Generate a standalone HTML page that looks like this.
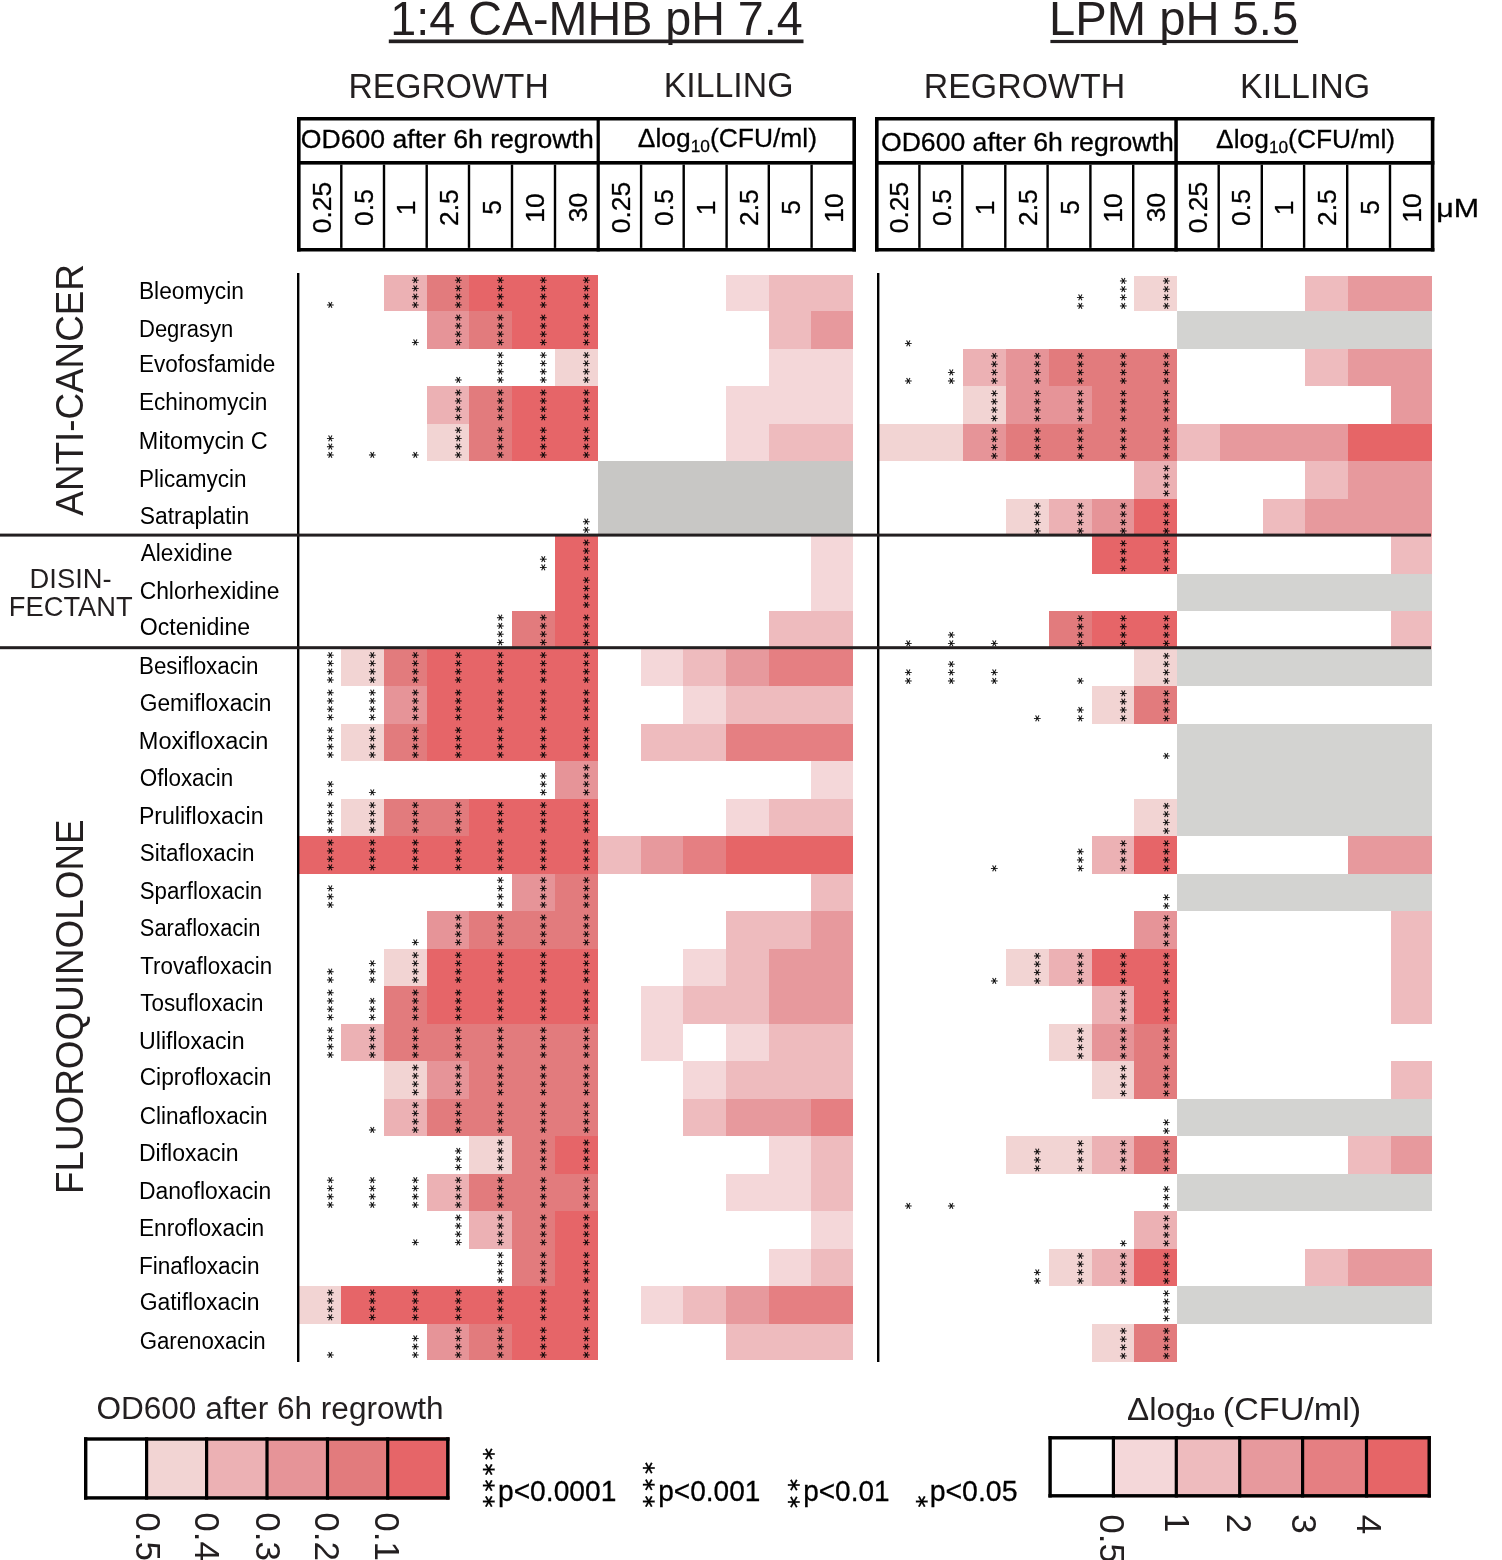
<!DOCTYPE html>
<html><head><meta charset="utf-8"><title>Heatmap</title>
<style>
html,body{margin:0;padding:0;background:#fff;overflow:hidden;}
svg{display:block;}
text{font-family:'Liberation Sans',Arial,sans-serif;}
text.k{stroke:#000;stroke-width:0.3px;}
text.a{font-family:'DejaVu Sans',sans-serif;font-size:10.5px;fill:#000;stroke:#000;stroke-width:0.1px;}
text.p{font-family:'DejaVu Sans',sans-serif;font-size:18.5px;fill:#000;stroke:#000;stroke-width:0.25px;}
rect.c{shape-rendering:crispEdges;}
</style></head><body>
<svg width="1502" height="1560" viewBox="0 0 1502 1560">
<rect width="1502" height="1560" fill="#fff"/>
<rect class="c" x="383.72" y="275.10" width="42.86" height="36.20" fill="#ECB1B4"/>
<rect class="c" x="426.58" y="275.10" width="42.86" height="36.20" fill="#E27B7D"/>
<rect class="c" x="469.44" y="275.10" width="128.58" height="36.20" fill="#E66568"/>
<rect class="c" x="426.58" y="311.30" width="42.86" height="37.50" fill="#E69498"/>
<rect class="c" x="469.44" y="311.30" width="42.86" height="37.50" fill="#E27B7D"/>
<rect class="c" x="512.30" y="311.30" width="85.72" height="37.50" fill="#E66568"/>
<rect class="c" x="555.16" y="348.80" width="42.86" height="37.50" fill="#F2D4D3"/>
<rect class="c" x="426.58" y="386.30" width="42.86" height="37.50" fill="#ECB1B4"/>
<rect class="c" x="469.44" y="386.30" width="42.86" height="37.50" fill="#E27B7D"/>
<rect class="c" x="512.30" y="386.30" width="85.72" height="37.50" fill="#E66568"/>
<rect class="c" x="426.58" y="423.80" width="42.86" height="37.50" fill="#F2D4D3"/>
<rect class="c" x="469.44" y="423.80" width="42.86" height="37.50" fill="#E27B7D"/>
<rect class="c" x="512.30" y="423.80" width="85.72" height="37.50" fill="#E66568"/>
<rect class="c" x="555.16" y="536.30" width="42.86" height="37.50" fill="#E66568"/>
<rect class="c" x="555.16" y="573.80" width="42.86" height="37.50" fill="#E66568"/>
<rect class="c" x="512.30" y="611.30" width="42.86" height="37.50" fill="#E27B7D"/>
<rect class="c" x="555.16" y="611.30" width="42.86" height="37.50" fill="#E66568"/>
<rect class="c" x="340.86" y="648.80" width="42.86" height="37.50" fill="#F2D4D3"/>
<rect class="c" x="383.72" y="648.80" width="42.86" height="37.50" fill="#E27B7D"/>
<rect class="c" x="426.58" y="648.80" width="171.44" height="37.50" fill="#E66568"/>
<rect class="c" x="383.72" y="686.30" width="42.86" height="37.50" fill="#E69498"/>
<rect class="c" x="426.58" y="686.30" width="171.44" height="37.50" fill="#E66568"/>
<rect class="c" x="340.86" y="723.80" width="42.86" height="37.50" fill="#F2D4D3"/>
<rect class="c" x="383.72" y="723.80" width="42.86" height="37.50" fill="#E27B7D"/>
<rect class="c" x="426.58" y="723.80" width="171.44" height="37.50" fill="#E66568"/>
<rect class="c" x="555.16" y="761.30" width="42.86" height="37.50" fill="#E69498"/>
<rect class="c" x="340.86" y="798.80" width="42.86" height="37.50" fill="#F2D4D3"/>
<rect class="c" x="383.72" y="798.80" width="85.72" height="37.50" fill="#E27B7D"/>
<rect class="c" x="469.44" y="798.80" width="128.58" height="37.50" fill="#E66568"/>
<rect class="c" x="298.00" y="836.30" width="300.02" height="37.50" fill="#E66568"/>
<rect class="c" x="512.30" y="873.80" width="42.86" height="37.50" fill="#E69498"/>
<rect class="c" x="555.16" y="873.80" width="42.86" height="37.50" fill="#E27B7D"/>
<rect class="c" x="426.58" y="911.30" width="42.86" height="37.50" fill="#E69498"/>
<rect class="c" x="469.44" y="911.30" width="128.58" height="37.50" fill="#E27B7D"/>
<rect class="c" x="383.72" y="948.80" width="42.86" height="37.50" fill="#F2D4D3"/>
<rect class="c" x="426.58" y="948.80" width="171.44" height="37.50" fill="#E66568"/>
<rect class="c" x="383.72" y="986.30" width="42.86" height="37.50" fill="#E27B7D"/>
<rect class="c" x="426.58" y="986.30" width="171.44" height="37.50" fill="#E66568"/>
<rect class="c" x="340.86" y="1023.80" width="42.86" height="37.50" fill="#ECB1B4"/>
<rect class="c" x="383.72" y="1023.80" width="214.30" height="37.50" fill="#E27B7D"/>
<rect class="c" x="383.72" y="1061.30" width="42.86" height="37.50" fill="#F2D4D3"/>
<rect class="c" x="426.58" y="1061.30" width="42.86" height="37.50" fill="#E69498"/>
<rect class="c" x="469.44" y="1061.30" width="128.58" height="37.50" fill="#E27B7D"/>
<rect class="c" x="383.72" y="1098.80" width="42.86" height="37.50" fill="#ECB1B4"/>
<rect class="c" x="426.58" y="1098.80" width="171.44" height="37.50" fill="#E27B7D"/>
<rect class="c" x="469.44" y="1136.30" width="42.86" height="37.50" fill="#F2D4D3"/>
<rect class="c" x="512.30" y="1136.30" width="42.86" height="37.50" fill="#E27B7D"/>
<rect class="c" x="555.16" y="1136.30" width="42.86" height="37.50" fill="#E66568"/>
<rect class="c" x="426.58" y="1173.80" width="42.86" height="37.50" fill="#ECB1B4"/>
<rect class="c" x="469.44" y="1173.80" width="128.58" height="37.50" fill="#E27B7D"/>
<rect class="c" x="469.44" y="1211.30" width="42.86" height="37.50" fill="#ECB1B4"/>
<rect class="c" x="512.30" y="1211.30" width="42.86" height="37.50" fill="#E27B7D"/>
<rect class="c" x="555.16" y="1211.30" width="42.86" height="37.50" fill="#E66568"/>
<rect class="c" x="512.30" y="1248.80" width="42.86" height="37.50" fill="#E27B7D"/>
<rect class="c" x="555.16" y="1248.80" width="42.86" height="37.50" fill="#E66568"/>
<rect class="c" x="298.00" y="1286.30" width="42.86" height="37.50" fill="#F2D4D3"/>
<rect class="c" x="340.86" y="1286.30" width="257.16" height="37.50" fill="#E66568"/>
<rect class="c" x="426.58" y="1323.80" width="42.86" height="36.20" fill="#E69498"/>
<rect class="c" x="469.44" y="1323.80" width="42.86" height="36.20" fill="#E27B7D"/>
<rect class="c" x="512.30" y="1323.80" width="85.72" height="36.20" fill="#E66568"/>
<rect class="c" x="725.80" y="275.10" width="42.80" height="36.20" fill="#F4D7D9"/>
<rect class="c" x="768.60" y="275.10" width="84.40" height="36.20" fill="#EEBBBE"/>
<rect class="c" x="768.60" y="311.30" width="42.60" height="37.50" fill="#EEBBBE"/>
<rect class="c" x="811.20" y="311.30" width="41.80" height="37.50" fill="#E7999D"/>
<rect class="c" x="768.60" y="348.80" width="84.40" height="37.50" fill="#F4D7D9"/>
<rect class="c" x="725.80" y="386.30" width="127.20" height="37.50" fill="#F4D7D9"/>
<rect class="c" x="725.80" y="423.80" width="42.80" height="37.50" fill="#F4D7D9"/>
<rect class="c" x="768.60" y="423.80" width="84.40" height="37.50" fill="#EEBBBE"/>
<rect class="c" x="598.00" y="461.30" width="255.00" height="37.50" fill="#C8C7C5"/>
<rect class="c" x="598.00" y="498.80" width="255.00" height="37.50" fill="#C8C7C5"/>
<rect class="c" x="811.20" y="536.30" width="41.80" height="37.50" fill="#F4D7D9"/>
<rect class="c" x="811.20" y="573.80" width="41.80" height="37.50" fill="#F4D7D9"/>
<rect class="c" x="768.60" y="611.30" width="84.40" height="37.50" fill="#EEBBBE"/>
<rect class="c" x="640.60" y="648.80" width="42.60" height="37.50" fill="#F4D7D9"/>
<rect class="c" x="683.20" y="648.80" width="42.60" height="37.50" fill="#EEBBBE"/>
<rect class="c" x="725.80" y="648.80" width="42.80" height="37.50" fill="#E7999D"/>
<rect class="c" x="768.60" y="648.80" width="84.40" height="37.50" fill="#E57F82"/>
<rect class="c" x="683.20" y="686.30" width="42.60" height="37.50" fill="#F4D7D9"/>
<rect class="c" x="725.80" y="686.30" width="127.20" height="37.50" fill="#EEBBBE"/>
<rect class="c" x="640.60" y="723.80" width="85.20" height="37.50" fill="#EEBBBE"/>
<rect class="c" x="725.80" y="723.80" width="127.20" height="37.50" fill="#E57F82"/>
<rect class="c" x="811.20" y="761.30" width="41.80" height="37.50" fill="#F4D7D9"/>
<rect class="c" x="725.80" y="798.80" width="42.80" height="37.50" fill="#F4D7D9"/>
<rect class="c" x="768.60" y="798.80" width="84.40" height="37.50" fill="#EEBBBE"/>
<rect class="c" x="598.00" y="836.30" width="42.60" height="37.50" fill="#EEBBBE"/>
<rect class="c" x="640.60" y="836.30" width="42.60" height="37.50" fill="#E7999D"/>
<rect class="c" x="683.20" y="836.30" width="42.60" height="37.50" fill="#E57F82"/>
<rect class="c" x="725.80" y="836.30" width="127.20" height="37.50" fill="#E66567"/>
<rect class="c" x="811.20" y="873.80" width="41.80" height="37.50" fill="#EEBBBE"/>
<rect class="c" x="725.80" y="911.30" width="85.40" height="37.50" fill="#EEBBBE"/>
<rect class="c" x="811.20" y="911.30" width="41.80" height="37.50" fill="#E7999D"/>
<rect class="c" x="683.20" y="948.80" width="42.60" height="37.50" fill="#F4D7D9"/>
<rect class="c" x="725.80" y="948.80" width="42.80" height="37.50" fill="#EEBBBE"/>
<rect class="c" x="768.60" y="948.80" width="84.40" height="37.50" fill="#E7999D"/>
<rect class="c" x="640.60" y="986.30" width="42.60" height="37.50" fill="#F4D7D9"/>
<rect class="c" x="683.20" y="986.30" width="85.40" height="37.50" fill="#EEBBBE"/>
<rect class="c" x="768.60" y="986.30" width="84.40" height="37.50" fill="#E7999D"/>
<rect class="c" x="640.60" y="1023.80" width="42.60" height="37.50" fill="#F4D7D9"/>
<rect class="c" x="725.80" y="1023.80" width="42.80" height="37.50" fill="#F4D7D9"/>
<rect class="c" x="768.60" y="1023.80" width="84.40" height="37.50" fill="#EEBBBE"/>
<rect class="c" x="683.20" y="1061.30" width="42.60" height="37.50" fill="#F4D7D9"/>
<rect class="c" x="725.80" y="1061.30" width="127.20" height="37.50" fill="#EEBBBE"/>
<rect class="c" x="683.20" y="1098.80" width="42.60" height="37.50" fill="#EEBBBE"/>
<rect class="c" x="725.80" y="1098.80" width="85.40" height="37.50" fill="#E7999D"/>
<rect class="c" x="811.20" y="1098.80" width="41.80" height="37.50" fill="#E57F82"/>
<rect class="c" x="768.60" y="1136.30" width="42.60" height="37.50" fill="#F4D7D9"/>
<rect class="c" x="811.20" y="1136.30" width="41.80" height="37.50" fill="#EEBBBE"/>
<rect class="c" x="725.80" y="1173.80" width="85.40" height="37.50" fill="#F4D7D9"/>
<rect class="c" x="811.20" y="1173.80" width="41.80" height="37.50" fill="#EEBBBE"/>
<rect class="c" x="811.20" y="1211.30" width="41.80" height="37.50" fill="#F4D7D9"/>
<rect class="c" x="768.60" y="1248.80" width="42.60" height="37.50" fill="#F4D7D9"/>
<rect class="c" x="811.20" y="1248.80" width="41.80" height="37.50" fill="#EEBBBE"/>
<rect class="c" x="640.60" y="1286.30" width="42.60" height="37.50" fill="#F4D7D9"/>
<rect class="c" x="683.20" y="1286.30" width="42.60" height="37.50" fill="#EEBBBE"/>
<rect class="c" x="725.80" y="1286.30" width="42.80" height="37.50" fill="#E7999D"/>
<rect class="c" x="768.60" y="1286.30" width="84.40" height="37.50" fill="#E57F82"/>
<rect class="c" x="725.80" y="1323.80" width="127.20" height="36.20" fill="#EEBBBE"/>
<rect class="c" x="1134.32" y="275.80" width="42.77" height="35.50" fill="#F2D4D3"/>
<rect class="c" x="963.24" y="348.80" width="42.77" height="37.50" fill="#ECB1B4"/>
<rect class="c" x="1006.01" y="348.80" width="42.77" height="37.50" fill="#E69498"/>
<rect class="c" x="1048.78" y="348.80" width="128.31" height="37.50" fill="#E27B7D"/>
<rect class="c" x="963.24" y="386.30" width="42.77" height="37.50" fill="#F2D4D3"/>
<rect class="c" x="1006.01" y="386.30" width="85.54" height="37.50" fill="#E69498"/>
<rect class="c" x="1091.55" y="386.30" width="85.54" height="37.50" fill="#E27B7D"/>
<rect class="c" x="877.70" y="423.80" width="85.54" height="37.50" fill="#F2D4D3"/>
<rect class="c" x="963.24" y="423.80" width="42.77" height="37.50" fill="#E69498"/>
<rect class="c" x="1006.01" y="423.80" width="171.08" height="37.50" fill="#E27B7D"/>
<rect class="c" x="1134.32" y="461.30" width="42.77" height="37.50" fill="#ECB1B4"/>
<rect class="c" x="1006.01" y="498.80" width="42.77" height="37.50" fill="#F2D4D3"/>
<rect class="c" x="1048.78" y="498.80" width="42.77" height="37.50" fill="#ECB1B4"/>
<rect class="c" x="1091.55" y="498.80" width="42.77" height="37.50" fill="#E69498"/>
<rect class="c" x="1134.32" y="498.80" width="42.77" height="37.50" fill="#E66568"/>
<rect class="c" x="1091.55" y="536.30" width="85.54" height="37.50" fill="#E66568"/>
<rect class="c" x="1048.78" y="611.30" width="42.77" height="37.50" fill="#E27B7D"/>
<rect class="c" x="1091.55" y="611.30" width="85.54" height="37.50" fill="#E66568"/>
<rect class="c" x="1134.32" y="648.80" width="42.77" height="37.50" fill="#F2D4D3"/>
<rect class="c" x="1091.55" y="686.30" width="42.77" height="37.50" fill="#F2D4D3"/>
<rect class="c" x="1134.32" y="686.30" width="42.77" height="37.50" fill="#E27B7D"/>
<rect class="c" x="1134.32" y="798.80" width="42.77" height="37.50" fill="#F2D4D3"/>
<rect class="c" x="1091.55" y="836.30" width="42.77" height="37.50" fill="#ECB1B4"/>
<rect class="c" x="1134.32" y="836.30" width="42.77" height="37.50" fill="#E66568"/>
<rect class="c" x="1134.32" y="911.30" width="42.77" height="37.50" fill="#E69498"/>
<rect class="c" x="1006.01" y="948.80" width="42.77" height="37.50" fill="#F2D4D3"/>
<rect class="c" x="1048.78" y="948.80" width="42.77" height="37.50" fill="#ECB1B4"/>
<rect class="c" x="1091.55" y="948.80" width="85.54" height="37.50" fill="#E66568"/>
<rect class="c" x="1091.55" y="986.30" width="42.77" height="37.50" fill="#ECB1B4"/>
<rect class="c" x="1134.32" y="986.30" width="42.77" height="37.50" fill="#E66568"/>
<rect class="c" x="1048.78" y="1023.80" width="42.77" height="37.50" fill="#F2D4D3"/>
<rect class="c" x="1091.55" y="1023.80" width="42.77" height="37.50" fill="#E69498"/>
<rect class="c" x="1134.32" y="1023.80" width="42.77" height="37.50" fill="#E27B7D"/>
<rect class="c" x="1091.55" y="1061.30" width="42.77" height="37.50" fill="#F2D4D3"/>
<rect class="c" x="1134.32" y="1061.30" width="42.77" height="37.50" fill="#E27B7D"/>
<rect class="c" x="1006.01" y="1136.30" width="85.54" height="37.50" fill="#F2D4D3"/>
<rect class="c" x="1091.55" y="1136.30" width="42.77" height="37.50" fill="#ECB1B4"/>
<rect class="c" x="1134.32" y="1136.30" width="42.77" height="37.50" fill="#E27B7D"/>
<rect class="c" x="1134.32" y="1211.30" width="42.77" height="37.50" fill="#ECB1B4"/>
<rect class="c" x="1048.78" y="1248.80" width="42.77" height="37.50" fill="#F2D4D3"/>
<rect class="c" x="1091.55" y="1248.80" width="42.77" height="37.50" fill="#ECB1B4"/>
<rect class="c" x="1134.32" y="1248.80" width="42.77" height="37.50" fill="#E66568"/>
<rect class="c" x="1091.55" y="1323.80" width="42.77" height="38.00" fill="#F2D4D3"/>
<rect class="c" x="1134.32" y="1323.80" width="42.77" height="38.00" fill="#E27B7D"/>
<rect class="c" x="1305.40" y="275.80" width="42.60" height="35.50" fill="#EEBBBE"/>
<rect class="c" x="1348.00" y="275.80" width="83.80" height="35.50" fill="#E7999D"/>
<rect class="c" x="1177.20" y="311.30" width="254.60" height="37.50" fill="#D3D3D1"/>
<rect class="c" x="1305.40" y="348.80" width="42.60" height="37.50" fill="#EEBBBE"/>
<rect class="c" x="1348.00" y="348.80" width="83.80" height="37.50" fill="#E7999D"/>
<rect class="c" x="1391.00" y="386.30" width="40.80" height="37.50" fill="#E7999D"/>
<rect class="c" x="1177.20" y="423.80" width="42.60" height="37.50" fill="#EEBBBE"/>
<rect class="c" x="1219.80" y="423.80" width="128.20" height="37.50" fill="#E7999D"/>
<rect class="c" x="1348.00" y="423.80" width="83.80" height="37.50" fill="#E66567"/>
<rect class="c" x="1305.40" y="461.30" width="42.60" height="37.50" fill="#EEBBBE"/>
<rect class="c" x="1348.00" y="461.30" width="83.80" height="37.50" fill="#E7999D"/>
<rect class="c" x="1262.60" y="498.80" width="42.80" height="37.50" fill="#EEBBBE"/>
<rect class="c" x="1305.40" y="498.80" width="126.40" height="37.50" fill="#E7999D"/>
<rect class="c" x="1391.00" y="536.30" width="40.80" height="37.50" fill="#EEBBBE"/>
<rect class="c" x="1177.20" y="573.80" width="254.60" height="37.50" fill="#D3D3D1"/>
<rect class="c" x="1391.00" y="611.30" width="40.80" height="37.50" fill="#EEBBBE"/>
<rect class="c" x="1177.20" y="648.80" width="254.60" height="37.50" fill="#D3D3D1"/>
<rect class="c" x="1177.20" y="723.80" width="254.60" height="37.50" fill="#D3D3D1"/>
<rect class="c" x="1177.20" y="761.30" width="254.60" height="37.50" fill="#D3D3D1"/>
<rect class="c" x="1177.20" y="798.80" width="254.60" height="37.50" fill="#D3D3D1"/>
<rect class="c" x="1348.00" y="836.30" width="83.80" height="37.50" fill="#E7999D"/>
<rect class="c" x="1177.20" y="873.80" width="254.60" height="37.50" fill="#D3D3D1"/>
<rect class="c" x="1391.00" y="911.30" width="40.80" height="37.50" fill="#EEBBBE"/>
<rect class="c" x="1391.00" y="948.80" width="40.80" height="37.50" fill="#EEBBBE"/>
<rect class="c" x="1391.00" y="986.30" width="40.80" height="37.50" fill="#EEBBBE"/>
<rect class="c" x="1391.00" y="1061.30" width="40.80" height="37.50" fill="#EEBBBE"/>
<rect class="c" x="1177.20" y="1098.80" width="254.60" height="37.50" fill="#D3D3D1"/>
<rect class="c" x="1348.00" y="1136.30" width="43.00" height="37.50" fill="#EEBBBE"/>
<rect class="c" x="1391.00" y="1136.30" width="40.80" height="37.50" fill="#E7999D"/>
<rect class="c" x="1177.20" y="1173.80" width="254.60" height="37.50" fill="#D3D3D1"/>
<rect class="c" x="1305.40" y="1248.80" width="42.60" height="37.50" fill="#EEBBBE"/>
<rect class="c" x="1348.00" y="1248.80" width="83.80" height="37.50" fill="#E7999D"/>
<rect class="c" x="1177.20" y="1286.30" width="254.60" height="37.50" fill="#D3D3D1"/>
<text class="a" transform="translate(326.81,0) rotate(90)" x="300.60" y="0">∗</text>
<text class="a" transform="translate(412.11,0) rotate(90)" x="275.70 284.00 292.30 300.60" y="0">∗∗∗∗</text>
<text class="a" transform="translate(454.76,0) rotate(90)" x="275.70 284.00 292.30 300.60" y="0">∗∗∗∗</text>
<text class="a" transform="translate(497.41,0) rotate(90)" x="275.70 284.00 292.30 300.60" y="0">∗∗∗∗</text>
<text class="a" transform="translate(540.06,0) rotate(90)" x="275.70 284.00 292.30 300.60" y="0">∗∗∗∗</text>
<text class="a" transform="translate(582.71,0) rotate(90)" x="275.70 284.00 292.30 300.60" y="0">∗∗∗∗</text>
<text class="a" transform="translate(412.11,0) rotate(90)" x="338.10" y="0">∗</text>
<text class="a" transform="translate(454.76,0) rotate(90)" x="313.20 321.50 329.80 338.10" y="0">∗∗∗∗</text>
<text class="a" transform="translate(497.41,0) rotate(90)" x="313.20 321.50 329.80 338.10" y="0">∗∗∗∗</text>
<text class="a" transform="translate(540.06,0) rotate(90)" x="313.20 321.50 329.80 338.10" y="0">∗∗∗∗</text>
<text class="a" transform="translate(582.71,0) rotate(90)" x="313.20 321.50 329.80 338.10" y="0">∗∗∗∗</text>
<text class="a" transform="translate(454.76,0) rotate(90)" x="375.60" y="0">∗</text>
<text class="a" transform="translate(497.41,0) rotate(90)" x="350.70 359.00 367.30 375.60" y="0">∗∗∗∗</text>
<text class="a" transform="translate(540.06,0) rotate(90)" x="350.70 359.00 367.30 375.60" y="0">∗∗∗∗</text>
<text class="a" transform="translate(582.71,0) rotate(90)" x="350.70 359.00 367.30 375.60" y="0">∗∗∗∗</text>
<text class="a" transform="translate(454.76,0) rotate(90)" x="388.20 396.50 404.80 413.10" y="0">∗∗∗∗</text>
<text class="a" transform="translate(497.41,0) rotate(90)" x="388.20 396.50 404.80 413.10" y="0">∗∗∗∗</text>
<text class="a" transform="translate(540.06,0) rotate(90)" x="388.20 396.50 404.80 413.10" y="0">∗∗∗∗</text>
<text class="a" transform="translate(582.71,0) rotate(90)" x="388.20 396.50 404.80 413.10" y="0">∗∗∗∗</text>
<text class="a" transform="translate(326.81,0) rotate(90)" x="434.00 442.30 450.60" y="0">∗∗∗</text>
<text class="a" transform="translate(369.46,0) rotate(90)" x="450.60" y="0">∗</text>
<text class="a" transform="translate(412.11,0) rotate(90)" x="450.60" y="0">∗</text>
<text class="a" transform="translate(454.76,0) rotate(90)" x="425.70 434.00 442.30 450.60" y="0">∗∗∗∗</text>
<text class="a" transform="translate(497.41,0) rotate(90)" x="425.70 434.00 442.30 450.60" y="0">∗∗∗∗</text>
<text class="a" transform="translate(540.06,0) rotate(90)" x="425.70 434.00 442.30 450.60" y="0">∗∗∗∗</text>
<text class="a" transform="translate(582.71,0) rotate(90)" x="425.70 434.00 442.30 450.60" y="0">∗∗∗∗</text>
<text class="a" transform="translate(582.71,0) rotate(90)" x="517.30 525.60" y="0">∗∗</text>
<text class="a" transform="translate(540.06,0) rotate(90)" x="554.80 563.10" y="0">∗∗</text>
<text class="a" transform="translate(582.71,0) rotate(90)" x="538.20 546.50 554.80 563.10" y="0">∗∗∗∗</text>
<text class="a" transform="translate(582.71,0) rotate(90)" x="575.70 584.00 592.30 600.60" y="0">∗∗∗∗</text>
<text class="a" transform="translate(497.41,0) rotate(90)" x="613.20 621.50 629.80 638.10" y="0">∗∗∗∗</text>
<text class="a" transform="translate(540.06,0) rotate(90)" x="613.20 621.50 629.80 638.10" y="0">∗∗∗∗</text>
<text class="a" transform="translate(582.71,0) rotate(90)" x="613.20 621.50 629.80 638.10" y="0">∗∗∗∗</text>
<text class="a" transform="translate(326.81,0) rotate(90)" x="650.70 659.00 667.30 675.60" y="0">∗∗∗∗</text>
<text class="a" transform="translate(369.46,0) rotate(90)" x="650.70 659.00 667.30 675.60" y="0">∗∗∗∗</text>
<text class="a" transform="translate(412.11,0) rotate(90)" x="650.70 659.00 667.30 675.60" y="0">∗∗∗∗</text>
<text class="a" transform="translate(454.76,0) rotate(90)" x="650.70 659.00 667.30 675.60" y="0">∗∗∗∗</text>
<text class="a" transform="translate(497.41,0) rotate(90)" x="650.70 659.00 667.30 675.60" y="0">∗∗∗∗</text>
<text class="a" transform="translate(540.06,0) rotate(90)" x="650.70 659.00 667.30 675.60" y="0">∗∗∗∗</text>
<text class="a" transform="translate(582.71,0) rotate(90)" x="650.70 659.00 667.30 675.60" y="0">∗∗∗∗</text>
<text class="a" transform="translate(326.81,0) rotate(90)" x="688.20 696.50 704.80 713.10" y="0">∗∗∗∗</text>
<text class="a" transform="translate(369.46,0) rotate(90)" x="688.20 696.50 704.80 713.10" y="0">∗∗∗∗</text>
<text class="a" transform="translate(412.11,0) rotate(90)" x="688.20 696.50 704.80 713.10" y="0">∗∗∗∗</text>
<text class="a" transform="translate(454.76,0) rotate(90)" x="688.20 696.50 704.80 713.10" y="0">∗∗∗∗</text>
<text class="a" transform="translate(497.41,0) rotate(90)" x="688.20 696.50 704.80 713.10" y="0">∗∗∗∗</text>
<text class="a" transform="translate(540.06,0) rotate(90)" x="688.20 696.50 704.80 713.10" y="0">∗∗∗∗</text>
<text class="a" transform="translate(582.71,0) rotate(90)" x="688.20 696.50 704.80 713.10" y="0">∗∗∗∗</text>
<text class="a" transform="translate(326.81,0) rotate(90)" x="725.70 734.00 742.30 750.60" y="0">∗∗∗∗</text>
<text class="a" transform="translate(369.46,0) rotate(90)" x="725.70 734.00 742.30 750.60" y="0">∗∗∗∗</text>
<text class="a" transform="translate(412.11,0) rotate(90)" x="725.70 734.00 742.30 750.60" y="0">∗∗∗∗</text>
<text class="a" transform="translate(454.76,0) rotate(90)" x="725.70 734.00 742.30 750.60" y="0">∗∗∗∗</text>
<text class="a" transform="translate(497.41,0) rotate(90)" x="725.70 734.00 742.30 750.60" y="0">∗∗∗∗</text>
<text class="a" transform="translate(540.06,0) rotate(90)" x="725.70 734.00 742.30 750.60" y="0">∗∗∗∗</text>
<text class="a" transform="translate(582.71,0) rotate(90)" x="725.70 734.00 742.30 750.60" y="0">∗∗∗∗</text>
<text class="a" transform="translate(326.81,0) rotate(90)" x="779.80 788.10" y="0">∗∗</text>
<text class="a" transform="translate(369.46,0) rotate(90)" x="788.10" y="0">∗</text>
<text class="a" transform="translate(540.06,0) rotate(90)" x="771.50 779.80 788.10" y="0">∗∗∗</text>
<text class="a" transform="translate(582.71,0) rotate(90)" x="763.20 771.50 779.80 788.10" y="0">∗∗∗∗</text>
<text class="a" transform="translate(326.81,0) rotate(90)" x="800.70 809.00 817.30 825.60" y="0">∗∗∗∗</text>
<text class="a" transform="translate(369.46,0) rotate(90)" x="800.70 809.00 817.30 825.60" y="0">∗∗∗∗</text>
<text class="a" transform="translate(412.11,0) rotate(90)" x="800.70 809.00 817.30 825.60" y="0">∗∗∗∗</text>
<text class="a" transform="translate(454.76,0) rotate(90)" x="800.70 809.00 817.30 825.60" y="0">∗∗∗∗</text>
<text class="a" transform="translate(497.41,0) rotate(90)" x="800.70 809.00 817.30 825.60" y="0">∗∗∗∗</text>
<text class="a" transform="translate(540.06,0) rotate(90)" x="800.70 809.00 817.30 825.60" y="0">∗∗∗∗</text>
<text class="a" transform="translate(582.71,0) rotate(90)" x="800.70 809.00 817.30 825.60" y="0">∗∗∗∗</text>
<text class="a" transform="translate(326.81,0) rotate(90)" x="838.20 846.50 854.80 863.10" y="0">∗∗∗∗</text>
<text class="a" transform="translate(369.46,0) rotate(90)" x="838.20 846.50 854.80 863.10" y="0">∗∗∗∗</text>
<text class="a" transform="translate(412.11,0) rotate(90)" x="838.20 846.50 854.80 863.10" y="0">∗∗∗∗</text>
<text class="a" transform="translate(454.76,0) rotate(90)" x="838.20 846.50 854.80 863.10" y="0">∗∗∗∗</text>
<text class="a" transform="translate(497.41,0) rotate(90)" x="838.20 846.50 854.80 863.10" y="0">∗∗∗∗</text>
<text class="a" transform="translate(540.06,0) rotate(90)" x="838.20 846.50 854.80 863.10" y="0">∗∗∗∗</text>
<text class="a" transform="translate(582.71,0) rotate(90)" x="838.20 846.50 854.80 863.10" y="0">∗∗∗∗</text>
<text class="a" transform="translate(326.81,0) rotate(90)" x="884.00 892.30 900.60" y="0">∗∗∗</text>
<text class="a" transform="translate(497.41,0) rotate(90)" x="875.70 884.00 892.30 900.60" y="0">∗∗∗∗</text>
<text class="a" transform="translate(540.06,0) rotate(90)" x="875.70 884.00 892.30 900.60" y="0">∗∗∗∗</text>
<text class="a" transform="translate(582.71,0) rotate(90)" x="875.70 884.00 892.30 900.60" y="0">∗∗∗∗</text>
<text class="a" transform="translate(412.11,0) rotate(90)" x="938.10" y="0">∗</text>
<text class="a" transform="translate(454.76,0) rotate(90)" x="913.20 921.50 929.80 938.10" y="0">∗∗∗∗</text>
<text class="a" transform="translate(497.41,0) rotate(90)" x="913.20 921.50 929.80 938.10" y="0">∗∗∗∗</text>
<text class="a" transform="translate(540.06,0) rotate(90)" x="913.20 921.50 929.80 938.10" y="0">∗∗∗∗</text>
<text class="a" transform="translate(582.71,0) rotate(90)" x="913.20 921.50 929.80 938.10" y="0">∗∗∗∗</text>
<text class="a" transform="translate(326.81,0) rotate(90)" x="967.30 975.60" y="0">∗∗</text>
<text class="a" transform="translate(369.46,0) rotate(90)" x="959.00 967.30 975.60" y="0">∗∗∗</text>
<text class="a" transform="translate(412.11,0) rotate(90)" x="950.70 959.00 967.30 975.60" y="0">∗∗∗∗</text>
<text class="a" transform="translate(454.76,0) rotate(90)" x="950.70 959.00 967.30 975.60" y="0">∗∗∗∗</text>
<text class="a" transform="translate(497.41,0) rotate(90)" x="950.70 959.00 967.30 975.60" y="0">∗∗∗∗</text>
<text class="a" transform="translate(540.06,0) rotate(90)" x="950.70 959.00 967.30 975.60" y="0">∗∗∗∗</text>
<text class="a" transform="translate(582.71,0) rotate(90)" x="950.70 959.00 967.30 975.60" y="0">∗∗∗∗</text>
<text class="a" transform="translate(326.81,0) rotate(90)" x="988.20 996.50 1004.80 1013.10" y="0">∗∗∗∗</text>
<text class="a" transform="translate(369.46,0) rotate(90)" x="996.50 1004.80 1013.10" y="0">∗∗∗</text>
<text class="a" transform="translate(412.11,0) rotate(90)" x="988.20 996.50 1004.80 1013.10" y="0">∗∗∗∗</text>
<text class="a" transform="translate(454.76,0) rotate(90)" x="988.20 996.50 1004.80 1013.10" y="0">∗∗∗∗</text>
<text class="a" transform="translate(497.41,0) rotate(90)" x="988.20 996.50 1004.80 1013.10" y="0">∗∗∗∗</text>
<text class="a" transform="translate(540.06,0) rotate(90)" x="988.20 996.50 1004.80 1013.10" y="0">∗∗∗∗</text>
<text class="a" transform="translate(582.71,0) rotate(90)" x="988.20 996.50 1004.80 1013.10" y="0">∗∗∗∗</text>
<text class="a" transform="translate(326.81,0) rotate(90)" x="1025.70 1034.00 1042.30 1050.60" y="0">∗∗∗∗</text>
<text class="a" transform="translate(369.46,0) rotate(90)" x="1025.70 1034.00 1042.30 1050.60" y="0">∗∗∗∗</text>
<text class="a" transform="translate(412.11,0) rotate(90)" x="1025.70 1034.00 1042.30 1050.60" y="0">∗∗∗∗</text>
<text class="a" transform="translate(454.76,0) rotate(90)" x="1025.70 1034.00 1042.30 1050.60" y="0">∗∗∗∗</text>
<text class="a" transform="translate(497.41,0) rotate(90)" x="1025.70 1034.00 1042.30 1050.60" y="0">∗∗∗∗</text>
<text class="a" transform="translate(540.06,0) rotate(90)" x="1025.70 1034.00 1042.30 1050.60" y="0">∗∗∗∗</text>
<text class="a" transform="translate(582.71,0) rotate(90)" x="1025.70 1034.00 1042.30 1050.60" y="0">∗∗∗∗</text>
<text class="a" transform="translate(412.11,0) rotate(90)" x="1063.20 1071.50 1079.80 1088.10" y="0">∗∗∗∗</text>
<text class="a" transform="translate(454.76,0) rotate(90)" x="1063.20 1071.50 1079.80 1088.10" y="0">∗∗∗∗</text>
<text class="a" transform="translate(497.41,0) rotate(90)" x="1063.20 1071.50 1079.80 1088.10" y="0">∗∗∗∗</text>
<text class="a" transform="translate(540.06,0) rotate(90)" x="1063.20 1071.50 1079.80 1088.10" y="0">∗∗∗∗</text>
<text class="a" transform="translate(582.71,0) rotate(90)" x="1063.20 1071.50 1079.80 1088.10" y="0">∗∗∗∗</text>
<text class="a" transform="translate(369.46,0) rotate(90)" x="1125.60" y="0">∗</text>
<text class="a" transform="translate(412.11,0) rotate(90)" x="1100.70 1109.00 1117.30 1125.60" y="0">∗∗∗∗</text>
<text class="a" transform="translate(454.76,0) rotate(90)" x="1100.70 1109.00 1117.30 1125.60" y="0">∗∗∗∗</text>
<text class="a" transform="translate(497.41,0) rotate(90)" x="1100.70 1109.00 1117.30 1125.60" y="0">∗∗∗∗</text>
<text class="a" transform="translate(540.06,0) rotate(90)" x="1100.70 1109.00 1117.30 1125.60" y="0">∗∗∗∗</text>
<text class="a" transform="translate(582.71,0) rotate(90)" x="1100.70 1109.00 1117.30 1125.60" y="0">∗∗∗∗</text>
<text class="a" transform="translate(454.76,0) rotate(90)" x="1146.50 1154.80 1163.10" y="0">∗∗∗</text>
<text class="a" transform="translate(497.41,0) rotate(90)" x="1138.20 1146.50 1154.80 1163.10" y="0">∗∗∗∗</text>
<text class="a" transform="translate(540.06,0) rotate(90)" x="1138.20 1146.50 1154.80 1163.10" y="0">∗∗∗∗</text>
<text class="a" transform="translate(582.71,0) rotate(90)" x="1138.20 1146.50 1154.80 1163.10" y="0">∗∗∗∗</text>
<text class="a" transform="translate(326.81,0) rotate(90)" x="1175.70 1184.00 1192.30 1200.60" y="0">∗∗∗∗</text>
<text class="a" transform="translate(369.46,0) rotate(90)" x="1175.70 1184.00 1192.30 1200.60" y="0">∗∗∗∗</text>
<text class="a" transform="translate(412.11,0) rotate(90)" x="1175.70 1184.00 1192.30 1200.60" y="0">∗∗∗∗</text>
<text class="a" transform="translate(454.76,0) rotate(90)" x="1175.70 1184.00 1192.30 1200.60" y="0">∗∗∗∗</text>
<text class="a" transform="translate(497.41,0) rotate(90)" x="1175.70 1184.00 1192.30 1200.60" y="0">∗∗∗∗</text>
<text class="a" transform="translate(540.06,0) rotate(90)" x="1175.70 1184.00 1192.30 1200.60" y="0">∗∗∗∗</text>
<text class="a" transform="translate(582.71,0) rotate(90)" x="1175.70 1184.00 1192.30 1200.60" y="0">∗∗∗∗</text>
<text class="a" transform="translate(412.11,0) rotate(90)" x="1238.10" y="0">∗</text>
<text class="a" transform="translate(454.76,0) rotate(90)" x="1213.20 1221.50 1229.80 1238.10" y="0">∗∗∗∗</text>
<text class="a" transform="translate(497.41,0) rotate(90)" x="1213.20 1221.50 1229.80 1238.10" y="0">∗∗∗∗</text>
<text class="a" transform="translate(540.06,0) rotate(90)" x="1213.20 1221.50 1229.80 1238.10" y="0">∗∗∗∗</text>
<text class="a" transform="translate(582.71,0) rotate(90)" x="1213.20 1221.50 1229.80 1238.10" y="0">∗∗∗∗</text>
<text class="a" transform="translate(497.41,0) rotate(90)" x="1250.70 1259.00 1267.30 1275.60" y="0">∗∗∗∗</text>
<text class="a" transform="translate(540.06,0) rotate(90)" x="1250.70 1259.00 1267.30 1275.60" y="0">∗∗∗∗</text>
<text class="a" transform="translate(582.71,0) rotate(90)" x="1250.70 1259.00 1267.30 1275.60" y="0">∗∗∗∗</text>
<text class="a" transform="translate(326.81,0) rotate(90)" x="1288.20 1296.50 1304.80 1313.10" y="0">∗∗∗∗</text>
<text class="a" transform="translate(369.46,0) rotate(90)" x="1288.20 1296.50 1304.80 1313.10" y="0">∗∗∗∗</text>
<text class="a" transform="translate(412.11,0) rotate(90)" x="1288.20 1296.50 1304.80 1313.10" y="0">∗∗∗∗</text>
<text class="a" transform="translate(454.76,0) rotate(90)" x="1288.20 1296.50 1304.80 1313.10" y="0">∗∗∗∗</text>
<text class="a" transform="translate(497.41,0) rotate(90)" x="1288.20 1296.50 1304.80 1313.10" y="0">∗∗∗∗</text>
<text class="a" transform="translate(540.06,0) rotate(90)" x="1288.20 1296.50 1304.80 1313.10" y="0">∗∗∗∗</text>
<text class="a" transform="translate(582.71,0) rotate(90)" x="1288.20 1296.50 1304.80 1313.10" y="0">∗∗∗∗</text>
<text class="a" transform="translate(326.81,0) rotate(90)" x="1350.60" y="0">∗</text>
<text class="a" transform="translate(412.11,0) rotate(90)" x="1334.00 1342.30 1350.60" y="0">∗∗∗</text>
<text class="a" transform="translate(454.76,0) rotate(90)" x="1325.70 1334.00 1342.30 1350.60" y="0">∗∗∗∗</text>
<text class="a" transform="translate(497.41,0) rotate(90)" x="1325.70 1334.00 1342.30 1350.60" y="0">∗∗∗∗</text>
<text class="a" transform="translate(540.06,0) rotate(90)" x="1325.70 1334.00 1342.30 1350.60" y="0">∗∗∗∗</text>
<text class="a" transform="translate(582.71,0) rotate(90)" x="1325.70 1334.00 1342.30 1350.60" y="0">∗∗∗∗</text>
<text class="a" transform="translate(1076.91,0) rotate(90)" x="293.10 301.40" y="0">∗∗</text>
<text class="a" transform="translate(1119.91,0) rotate(90)" x="276.50 284.80 293.10 301.40" y="0">∗∗∗∗</text>
<text class="a" transform="translate(1162.91,0) rotate(90)" x="276.50 284.80 293.10 301.40" y="0">∗∗∗∗</text>
<text class="a" transform="translate(904.91,0) rotate(90)" x="338.90" y="0">∗</text>
<text class="a" transform="translate(904.91,0) rotate(90)" x="376.40" y="0">∗</text>
<text class="a" transform="translate(947.91,0) rotate(90)" x="368.10 376.40" y="0">∗∗</text>
<text class="a" transform="translate(990.91,0) rotate(90)" x="351.50 359.80 368.10 376.40" y="0">∗∗∗∗</text>
<text class="a" transform="translate(1033.91,0) rotate(90)" x="351.50 359.80 368.10 376.40" y="0">∗∗∗∗</text>
<text class="a" transform="translate(1076.91,0) rotate(90)" x="351.50 359.80 368.10 376.40" y="0">∗∗∗∗</text>
<text class="a" transform="translate(1119.91,0) rotate(90)" x="351.50 359.80 368.10 376.40" y="0">∗∗∗∗</text>
<text class="a" transform="translate(1162.91,0) rotate(90)" x="351.50 359.80 368.10 376.40" y="0">∗∗∗∗</text>
<text class="a" transform="translate(990.91,0) rotate(90)" x="389.00 397.30 405.60 413.90" y="0">∗∗∗∗</text>
<text class="a" transform="translate(1033.91,0) rotate(90)" x="389.00 397.30 405.60 413.90" y="0">∗∗∗∗</text>
<text class="a" transform="translate(1076.91,0) rotate(90)" x="389.00 397.30 405.60 413.90" y="0">∗∗∗∗</text>
<text class="a" transform="translate(1119.91,0) rotate(90)" x="389.00 397.30 405.60 413.90" y="0">∗∗∗∗</text>
<text class="a" transform="translate(1162.91,0) rotate(90)" x="389.00 397.30 405.60 413.90" y="0">∗∗∗∗</text>
<text class="a" transform="translate(990.91,0) rotate(90)" x="426.50 434.80 443.10 451.40" y="0">∗∗∗∗</text>
<text class="a" transform="translate(1033.91,0) rotate(90)" x="426.50 434.80 443.10 451.40" y="0">∗∗∗∗</text>
<text class="a" transform="translate(1076.91,0) rotate(90)" x="426.50 434.80 443.10 451.40" y="0">∗∗∗∗</text>
<text class="a" transform="translate(1119.91,0) rotate(90)" x="426.50 434.80 443.10 451.40" y="0">∗∗∗∗</text>
<text class="a" transform="translate(1162.91,0) rotate(90)" x="426.50 434.80 443.10 451.40" y="0">∗∗∗∗</text>
<text class="a" transform="translate(1162.91,0) rotate(90)" x="464.00 472.30 480.60 488.90" y="0">∗∗∗∗</text>
<text class="a" transform="translate(1033.91,0) rotate(90)" x="501.50 509.80 518.10 526.40" y="0">∗∗∗∗</text>
<text class="a" transform="translate(1076.91,0) rotate(90)" x="501.50 509.80 518.10 526.40" y="0">∗∗∗∗</text>
<text class="a" transform="translate(1119.91,0) rotate(90)" x="501.50 509.80 518.10 526.40" y="0">∗∗∗∗</text>
<text class="a" transform="translate(1162.91,0) rotate(90)" x="501.50 509.80 518.10 526.40" y="0">∗∗∗∗</text>
<text class="a" transform="translate(1119.91,0) rotate(90)" x="539.00 547.30 555.60 563.90" y="0">∗∗∗∗</text>
<text class="a" transform="translate(1162.91,0) rotate(90)" x="539.00 547.30 555.60 563.90" y="0">∗∗∗∗</text>
<text class="a" transform="translate(904.91,0) rotate(90)" x="638.90" y="0">∗</text>
<text class="a" transform="translate(947.91,0) rotate(90)" x="630.60 638.90" y="0">∗∗</text>
<text class="a" transform="translate(990.91,0) rotate(90)" x="638.90" y="0">∗</text>
<text class="a" transform="translate(1076.91,0) rotate(90)" x="614.00 622.30 630.60 638.90" y="0">∗∗∗∗</text>
<text class="a" transform="translate(1119.91,0) rotate(90)" x="614.00 622.30 630.60 638.90" y="0">∗∗∗∗</text>
<text class="a" transform="translate(1162.91,0) rotate(90)" x="614.00 622.30 630.60 638.90" y="0">∗∗∗∗</text>
<text class="a" transform="translate(904.91,0) rotate(90)" x="668.10 676.40" y="0">∗∗</text>
<text class="a" transform="translate(947.91,0) rotate(90)" x="659.80 668.10 676.40" y="0">∗∗∗</text>
<text class="a" transform="translate(990.91,0) rotate(90)" x="668.10 676.40" y="0">∗∗</text>
<text class="a" transform="translate(1076.91,0) rotate(90)" x="676.40" y="0">∗</text>
<text class="a" transform="translate(1162.91,0) rotate(90)" x="651.50 659.80 668.10 676.40" y="0">∗∗∗∗</text>
<text class="a" transform="translate(1033.91,0) rotate(90)" x="713.90" y="0">∗</text>
<text class="a" transform="translate(1076.91,0) rotate(90)" x="705.60 713.90" y="0">∗∗</text>
<text class="a" transform="translate(1119.91,0) rotate(90)" x="689.00 697.30 705.60 713.90" y="0">∗∗∗∗</text>
<text class="a" transform="translate(1162.91,0) rotate(90)" x="689.00 697.30 705.60 713.90" y="0">∗∗∗∗</text>
<text class="a" transform="translate(1162.91,0) rotate(90)" x="751.40" y="0">∗</text>
<text class="a" transform="translate(1162.91,0) rotate(90)" x="801.50 809.80 818.10 826.40" y="0">∗∗∗∗</text>
<text class="a" transform="translate(990.91,0) rotate(90)" x="863.90" y="0">∗</text>
<text class="a" transform="translate(1076.91,0) rotate(90)" x="847.30 855.60 863.90" y="0">∗∗∗</text>
<text class="a" transform="translate(1119.91,0) rotate(90)" x="839.00 847.30 855.60 863.90" y="0">∗∗∗∗</text>
<text class="a" transform="translate(1162.91,0) rotate(90)" x="839.00 847.30 855.60 863.90" y="0">∗∗∗∗</text>
<text class="a" transform="translate(1162.91,0) rotate(90)" x="893.10 901.40" y="0">∗∗</text>
<text class="a" transform="translate(1162.91,0) rotate(90)" x="914.00 922.30 930.60 938.90" y="0">∗∗∗∗</text>
<text class="a" transform="translate(990.91,0) rotate(90)" x="976.40" y="0">∗</text>
<text class="a" transform="translate(1033.91,0) rotate(90)" x="951.50 959.80 968.10 976.40" y="0">∗∗∗∗</text>
<text class="a" transform="translate(1076.91,0) rotate(90)" x="951.50 959.80 968.10 976.40" y="0">∗∗∗∗</text>
<text class="a" transform="translate(1119.91,0) rotate(90)" x="951.50 959.80 968.10 976.40" y="0">∗∗∗∗</text>
<text class="a" transform="translate(1162.91,0) rotate(90)" x="951.50 959.80 968.10 976.40" y="0">∗∗∗∗</text>
<text class="a" transform="translate(1119.91,0) rotate(90)" x="989.00 997.30 1005.60 1013.90" y="0">∗∗∗∗</text>
<text class="a" transform="translate(1162.91,0) rotate(90)" x="989.00 997.30 1005.60 1013.90" y="0">∗∗∗∗</text>
<text class="a" transform="translate(1076.91,0) rotate(90)" x="1026.50 1034.80 1043.10 1051.40" y="0">∗∗∗∗</text>
<text class="a" transform="translate(1119.91,0) rotate(90)" x="1026.50 1034.80 1043.10 1051.40" y="0">∗∗∗∗</text>
<text class="a" transform="translate(1162.91,0) rotate(90)" x="1026.50 1034.80 1043.10 1051.40" y="0">∗∗∗∗</text>
<text class="a" transform="translate(1119.91,0) rotate(90)" x="1064.00 1072.30 1080.60 1088.90" y="0">∗∗∗∗</text>
<text class="a" transform="translate(1162.91,0) rotate(90)" x="1064.00 1072.30 1080.60 1088.90" y="0">∗∗∗∗</text>
<text class="a" transform="translate(1162.91,0) rotate(90)" x="1118.10 1126.40" y="0">∗∗</text>
<text class="a" transform="translate(1033.91,0) rotate(90)" x="1147.30 1155.60 1163.90" y="0">∗∗∗</text>
<text class="a" transform="translate(1076.91,0) rotate(90)" x="1139.00 1147.30 1155.60 1163.90" y="0">∗∗∗∗</text>
<text class="a" transform="translate(1119.91,0) rotate(90)" x="1139.00 1147.30 1155.60 1163.90" y="0">∗∗∗∗</text>
<text class="a" transform="translate(1162.91,0) rotate(90)" x="1139.00 1147.30 1155.60 1163.90" y="0">∗∗∗∗</text>
<text class="a" transform="translate(904.91,0) rotate(90)" x="1201.40" y="0">∗</text>
<text class="a" transform="translate(947.91,0) rotate(90)" x="1201.40" y="0">∗</text>
<text class="a" transform="translate(1162.91,0) rotate(90)" x="1184.80 1193.10 1201.40" y="0">∗∗∗</text>
<text class="a" transform="translate(1119.91,0) rotate(90)" x="1238.90" y="0">∗</text>
<text class="a" transform="translate(1162.91,0) rotate(90)" x="1214.00 1222.30 1230.60 1238.90" y="0">∗∗∗∗</text>
<text class="a" transform="translate(1033.91,0) rotate(90)" x="1268.10 1276.40" y="0">∗∗</text>
<text class="a" transform="translate(1076.91,0) rotate(90)" x="1251.50 1259.80 1268.10 1276.40" y="0">∗∗∗∗</text>
<text class="a" transform="translate(1119.91,0) rotate(90)" x="1251.50 1259.80 1268.10 1276.40" y="0">∗∗∗∗</text>
<text class="a" transform="translate(1162.91,0) rotate(90)" x="1251.50 1259.80 1268.10 1276.40" y="0">∗∗∗∗</text>
<text class="a" transform="translate(1162.91,0) rotate(90)" x="1289.00 1297.30 1305.60 1313.90" y="0">∗∗∗∗</text>
<text class="a" transform="translate(1119.91,0) rotate(90)" x="1326.50 1334.80 1343.10 1351.40" y="0">∗∗∗∗</text>
<text class="a" transform="translate(1162.91,0) rotate(90)" x="1326.50 1334.80 1343.10 1351.40" y="0">∗∗∗∗</text>
<rect x="297.00" y="273.00" width="2.40" height="1089.00" fill="#000"/>
<rect x="877.00" y="273.00" width="2.40" height="1089.00" fill="#000"/>
<rect x="0.00" y="533.60" width="1431.00" height="3.00" fill="#231F20"/>
<rect x="0.00" y="646.20" width="1431.00" height="3.00" fill="#231F20"/>
<rect x="297.00" y="117.00" width="559.00" height="3.50" fill="#000"/>
<rect x="297.00" y="248.00" width="559.00" height="3.50" fill="#000"/>
<rect x="297.00" y="117.00" width="3.60" height="134.50" fill="#000"/>
<rect x="852.40" y="117.00" width="3.60" height="134.50" fill="#000"/>
<rect x="297.00" y="161.00" width="559.00" height="3.60" fill="#000"/>
<rect x="596.60" y="117.00" width="3.20" height="134.50" fill="#000"/>
<rect x="340.10" y="164.60" width="2.40" height="83.30" fill="#000"/>
<rect x="382.80" y="164.60" width="2.40" height="83.30" fill="#000"/>
<rect x="425.50" y="164.60" width="2.40" height="83.30" fill="#000"/>
<rect x="467.80" y="164.60" width="2.40" height="83.30" fill="#000"/>
<rect x="510.80" y="164.60" width="2.40" height="83.30" fill="#000"/>
<rect x="553.80" y="164.60" width="2.40" height="83.30" fill="#000"/>
<rect x="639.90" y="164.60" width="2.40" height="83.30" fill="#000"/>
<rect x="682.50" y="164.60" width="2.40" height="83.30" fill="#000"/>
<rect x="725.40" y="164.60" width="2.40" height="83.30" fill="#000"/>
<rect x="767.60" y="164.60" width="2.40" height="83.30" fill="#000"/>
<rect x="810.40" y="164.60" width="2.40" height="83.30" fill="#000"/>
<rect x="875.00" y="117.00" width="559.40" height="3.50" fill="#000"/>
<rect x="875.00" y="248.00" width="559.40" height="3.50" fill="#000"/>
<rect x="875.00" y="117.00" width="3.60" height="134.50" fill="#000"/>
<rect x="1430.80" y="117.00" width="3.60" height="134.50" fill="#000"/>
<rect x="875.00" y="161.00" width="559.40" height="3.70" fill="#000"/>
<rect x="1174.30" y="117.00" width="3.50" height="134.50" fill="#000"/>
<rect x="918.20" y="164.70" width="2.40" height="83.20" fill="#000"/>
<rect x="961.10" y="164.70" width="2.40" height="83.20" fill="#000"/>
<rect x="1004.10" y="164.70" width="2.40" height="83.20" fill="#000"/>
<rect x="1046.40" y="164.70" width="2.40" height="83.20" fill="#000"/>
<rect x="1089.20" y="164.70" width="2.40" height="83.20" fill="#000"/>
<rect x="1132.00" y="164.70" width="2.40" height="83.20" fill="#000"/>
<rect x="1217.50" y="164.70" width="2.40" height="83.20" fill="#000"/>
<rect x="1260.60" y="164.70" width="2.40" height="83.20" fill="#000"/>
<rect x="1302.90" y="164.70" width="2.40" height="83.20" fill="#000"/>
<rect x="1346.00" y="164.70" width="2.40" height="83.20" fill="#000"/>
<rect x="1388.80" y="164.70" width="2.40" height="83.20" fill="#000"/>
<text class="k" x="300.74" y="147.80" font-size="26" textLength="292.99" lengthAdjust="spacingAndGlyphs" fill="#000">OD600 after 6h regrowth</text>
<text class="k" x="880.94" y="151.00" font-size="26" textLength="292.79" lengthAdjust="spacingAndGlyphs" fill="#000">OD600 after 6h regrowth</text>
<text class="k" x="637.81" y="147.30" font-size="26" textLength="52.90" lengthAdjust="spacingAndGlyphs" fill="#000">Δlog</text>
<text class="k" x="690.72" y="152.30" font-size="17" textLength="19.21" lengthAdjust="spacingAndGlyphs" fill="#000">10</text>
<text class="k" x="709.93" y="147.30" font-size="26" textLength="107.11" lengthAdjust="spacingAndGlyphs" fill="#000">(CFU/ml)</text>
<text class="k" x="1216.11" y="147.80" font-size="26" textLength="52.81" lengthAdjust="spacingAndGlyphs" fill="#000">Δlog</text>
<text class="k" x="1268.93" y="152.80" font-size="17" textLength="19.18" lengthAdjust="spacingAndGlyphs" fill="#000">10</text>
<text class="k" x="1288.11" y="147.80" font-size="26" textLength="106.93" lengthAdjust="spacingAndGlyphs" fill="#000">(CFU/ml)</text>
<text class="k" transform="translate(321.60,207.50) rotate(-90)" x="-25.75" y="9.12" font-size="26.5" fill="#000">0.25</text>
<text class="k" transform="translate(363.65,207.50) rotate(-90)" x="-18.38" y="9.12" font-size="26.5" fill="#000">0.5</text>
<text class="k" transform="translate(406.35,207.50) rotate(-90)" x="-7.73" y="9.12" font-size="26.5" fill="#000">1</text>
<text class="k" transform="translate(448.85,207.50) rotate(-90)" x="-18.53" y="9.12" font-size="26.5" fill="#000">2.5</text>
<text class="k" transform="translate(491.50,207.50) rotate(-90)" x="-7.34" y="8.99" font-size="26.5" fill="#000">5</text>
<text class="k" transform="translate(534.50,207.50) rotate(-90)" x="-15.23" y="9.12" font-size="26.5" fill="#000">10</text>
<text class="k" transform="translate(577.60,207.50) rotate(-90)" x="-14.73" y="9.12" font-size="26.5" fill="#000">30</text>
<text class="k" transform="translate(620.65,207.50) rotate(-90)" x="-25.75" y="9.12" font-size="26.5" fill="#000">0.25</text>
<text class="k" transform="translate(663.40,207.50) rotate(-90)" x="-18.38" y="9.12" font-size="26.5" fill="#000">0.5</text>
<text class="k" transform="translate(706.15,207.50) rotate(-90)" x="-7.73" y="9.12" font-size="26.5" fill="#000">1</text>
<text class="k" transform="translate(748.70,207.50) rotate(-90)" x="-18.53" y="9.12" font-size="26.5" fill="#000">2.5</text>
<text class="k" transform="translate(791.20,207.50) rotate(-90)" x="-7.34" y="8.99" font-size="26.5" fill="#000">5</text>
<text class="k" transform="translate(833.90,207.50) rotate(-90)" x="-15.23" y="9.12" font-size="26.5" fill="#000">10</text>
<text class="k" transform="translate(898.60,207.50) rotate(-90)" x="-25.75" y="9.12" font-size="26.5" fill="#000">0.25</text>
<text class="k" transform="translate(941.85,207.50) rotate(-90)" x="-18.38" y="9.12" font-size="26.5" fill="#000">0.5</text>
<text class="k" transform="translate(984.80,207.50) rotate(-90)" x="-7.73" y="9.12" font-size="26.5" fill="#000">1</text>
<text class="k" transform="translate(1027.45,207.50) rotate(-90)" x="-18.53" y="9.12" font-size="26.5" fill="#000">2.5</text>
<text class="k" transform="translate(1070.00,207.50) rotate(-90)" x="-7.34" y="8.99" font-size="26.5" fill="#000">5</text>
<text class="k" transform="translate(1112.80,207.50) rotate(-90)" x="-15.23" y="9.12" font-size="26.5" fill="#000">10</text>
<text class="k" transform="translate(1155.60,207.50) rotate(-90)" x="-14.73" y="9.12" font-size="26.5" fill="#000">30</text>
<text class="k" transform="translate(1198.35,207.50) rotate(-90)" x="-25.75" y="9.12" font-size="26.5" fill="#000">0.25</text>
<text class="k" transform="translate(1241.25,207.50) rotate(-90)" x="-18.38" y="9.12" font-size="26.5" fill="#000">0.5</text>
<text class="k" transform="translate(1283.95,207.50) rotate(-90)" x="-7.73" y="9.12" font-size="26.5" fill="#000">1</text>
<text class="k" transform="translate(1326.65,207.50) rotate(-90)" x="-18.53" y="9.12" font-size="26.5" fill="#000">2.5</text>
<text class="k" transform="translate(1369.60,207.50) rotate(-90)" x="-7.34" y="8.99" font-size="26.5" fill="#000">5</text>
<text class="k" transform="translate(1412.30,207.50) rotate(-90)" x="-15.23" y="9.12" font-size="26.5" fill="#000">10</text>
<text class="k" x="1436.15" y="217.30" font-size="26" textLength="42.84" lengthAdjust="spacingAndGlyphs" fill="#000">μM</text>
<text x="390.34" y="35.20" font-size="48.5" textLength="412.42" lengthAdjust="spacingAndGlyphs" fill="#231F20">1:4 CA-MHB pH 7.4</text>
<rect x="388.80" y="39.50" width="414.70" height="3.70" fill="#231F20"/>
<text x="1049.03" y="35.00" font-size="48.5" textLength="249.15" lengthAdjust="spacingAndGlyphs" fill="#231F20">LPM pH 5.5</text>
<rect x="1050.40" y="39.90" width="247.60" height="3.20" fill="#231F20"/>
<text x="348.54" y="98.00" font-size="34.5" textLength="200.21" lengthAdjust="spacingAndGlyphs" fill="#231F20">REGROWTH</text>
<text x="663.83" y="97.40" font-size="34.5" textLength="129.60" lengthAdjust="spacingAndGlyphs" fill="#231F20">KILLING</text>
<text x="923.82" y="98.20" font-size="34.5" textLength="201.34" lengthAdjust="spacingAndGlyphs" fill="#231F20">REGROWTH</text>
<text x="1240.12" y="98.20" font-size="34.5" textLength="130.12" lengthAdjust="spacingAndGlyphs" fill="#231F20">KILLING</text>
<text transform="translate(70.00,390.70) rotate(-90)" x="-124.97" y="13.43" font-size="39" fill="#231F20" textLength="251.58" lengthAdjust="spacingAndGlyphs">ANTI-CANCER</text>
<text transform="translate(68.90,1006.00) rotate(-90)" x="-188.02" y="13.62" font-size="39" fill="#231F20" textLength="374.61" lengthAdjust="spacingAndGlyphs">FLUOROQUINOLONE</text>
<text x="29.56" y="588.00" font-size="28" textLength="82.06" lengthAdjust="spacingAndGlyphs" fill="#231F20">DISIN-</text>
<text x="8.80" y="616.00" font-size="28" textLength="123.82" lengthAdjust="spacingAndGlyphs" fill="#231F20">FECTANT</text>
<text class="k" x="138.93" y="298.80" font-size="23" textLength="104.94" lengthAdjust="spacingAndGlyphs" fill="#000" style="stroke-width:0">Bleomycin</text>
<text class="k" x="139.00" y="337.10" font-size="23" textLength="94.13" lengthAdjust="spacingAndGlyphs" fill="#000" style="stroke-width:0">Degrasyn</text>
<text class="k" x="138.95" y="372.00" font-size="23" textLength="136.35" lengthAdjust="spacingAndGlyphs" fill="#000" style="stroke-width:0">Evofosfamide</text>
<text class="k" x="138.94" y="409.70" font-size="23" textLength="128.33" lengthAdjust="spacingAndGlyphs" fill="#000" style="stroke-width:0">Echinomycin</text>
<text class="k" x="138.88" y="448.90" font-size="23" textLength="128.92" lengthAdjust="spacingAndGlyphs" fill="#000" style="stroke-width:0">Mitomycin C</text>
<text class="k" x="138.95" y="486.90" font-size="23" textLength="107.61" lengthAdjust="spacingAndGlyphs" fill="#000" style="stroke-width:0">Plicamycin</text>
<text class="k" x="139.76" y="523.80" font-size="23" textLength="109.43" lengthAdjust="spacingAndGlyphs" fill="#000" style="stroke-width:0">Satraplatin</text>
<text class="k" x="140.76" y="560.80" font-size="23" textLength="91.75" lengthAdjust="spacingAndGlyphs" fill="#000" style="stroke-width:0">Alexidine</text>
<text class="k" x="139.64" y="598.80" font-size="23" textLength="139.88" lengthAdjust="spacingAndGlyphs" fill="#000" style="stroke-width:0">Chlorhexidine</text>
<text class="k" x="139.71" y="635.40" font-size="23" textLength="110.52" lengthAdjust="spacingAndGlyphs" fill="#000" style="stroke-width:0">Octenidine</text>
<text class="k" x="138.96" y="673.90" font-size="23" textLength="119.39" lengthAdjust="spacingAndGlyphs" fill="#000" style="stroke-width:0">Besifloxacin</text>
<text class="k" x="139.65" y="711.20" font-size="23" textLength="131.83" lengthAdjust="spacingAndGlyphs" fill="#000" style="stroke-width:0">Gemifloxacin</text>
<text class="k" x="138.87" y="749.30" font-size="23" textLength="129.56" lengthAdjust="spacingAndGlyphs" fill="#000" style="stroke-width:0">Moxifloxacin</text>
<text class="k" x="139.74" y="785.80" font-size="23" textLength="93.52" lengthAdjust="spacingAndGlyphs" fill="#000" style="stroke-width:0">Ofloxacin</text>
<text class="k" x="138.90" y="823.90" font-size="23" textLength="124.60" lengthAdjust="spacingAndGlyphs" fill="#000" style="stroke-width:0">Prulifloxacin</text>
<text class="k" x="139.78" y="860.80" font-size="23" textLength="114.78" lengthAdjust="spacingAndGlyphs" fill="#000" style="stroke-width:0">Sitafloxacin</text>
<text class="k" x="139.79" y="898.90" font-size="23" textLength="122.46" lengthAdjust="spacingAndGlyphs" fill="#000" style="stroke-width:0">Sparfloxacin</text>
<text class="k" x="139.81" y="936.20" font-size="23" textLength="120.52" lengthAdjust="spacingAndGlyphs" fill="#000" style="stroke-width:0">Sarafloxacin</text>
<text class="k" x="140.30" y="973.80" font-size="23" textLength="131.94" lengthAdjust="spacingAndGlyphs" fill="#000" style="stroke-width:0">Trovafloxacin</text>
<text class="k" x="140.31" y="1010.80" font-size="23" textLength="123.12" lengthAdjust="spacingAndGlyphs" fill="#000" style="stroke-width:0">Tosufloxacin</text>
<text class="k" x="139.01" y="1048.80" font-size="23" textLength="105.59" lengthAdjust="spacingAndGlyphs" fill="#000" style="stroke-width:0">Ulifloxacin</text>
<text class="k" x="139.64" y="1085.40" font-size="23" textLength="131.84" lengthAdjust="spacingAndGlyphs" fill="#000" style="stroke-width:0">Ciprofloxacin</text>
<text class="k" x="139.65" y="1123.70" font-size="23" textLength="127.91" lengthAdjust="spacingAndGlyphs" fill="#000" style="stroke-width:0">Clinafloxacin</text>
<text class="k" x="138.91" y="1161.10" font-size="23" textLength="99.78" lengthAdjust="spacingAndGlyphs" fill="#000" style="stroke-width:0">Difloxacin</text>
<text class="k" x="138.92" y="1198.70" font-size="23" textLength="132.26" lengthAdjust="spacingAndGlyphs" fill="#000" style="stroke-width:0">Danofloxacin</text>
<text class="k" x="138.93" y="1235.90" font-size="23" textLength="125.35" lengthAdjust="spacingAndGlyphs" fill="#000" style="stroke-width:0">Enrofloxacin</text>
<text class="k" x="138.95" y="1273.60" font-size="23" textLength="120.52" lengthAdjust="spacingAndGlyphs" fill="#000" style="stroke-width:0">Finafloxacin</text>
<text class="k" x="139.65" y="1310.40" font-size="23" textLength="119.84" lengthAdjust="spacingAndGlyphs" fill="#000" style="stroke-width:0">Gatifloxacin</text>
<text class="k" x="139.68" y="1348.60" font-size="23" textLength="126.06" lengthAdjust="spacingAndGlyphs" fill="#000" style="stroke-width:0">Garenoxacin</text>
<rect x="146.60" y="1437.30" width="60.00" height="62.30" fill="#F2D4D3"/>
<rect x="206.60" y="1437.30" width="60.40" height="62.30" fill="#ECB1B4"/>
<rect x="267.00" y="1437.30" width="60.50" height="62.30" fill="#E69498"/>
<rect x="327.50" y="1437.30" width="60.20" height="62.30" fill="#E27B7D"/>
<rect x="387.70" y="1437.30" width="61.80" height="62.30" fill="#E66568"/>
<rect x="84.00" y="1437.30" width="365.50" height="3.40" fill="#000"/>
<rect x="84.00" y="1496.20" width="365.50" height="3.40" fill="#000"/>
<rect x="84.00" y="1437.30" width="3.40" height="62.30" fill="#000"/>
<rect x="446.10" y="1437.30" width="3.40" height="62.30" fill="#000"/>
<rect x="145.00" y="1437.30" width="3.20" height="62.30" fill="#000"/>
<rect x="205.00" y="1437.30" width="3.20" height="62.30" fill="#000"/>
<rect x="265.40" y="1437.30" width="3.20" height="62.30" fill="#000"/>
<rect x="325.90" y="1437.30" width="3.20" height="62.30" fill="#000"/>
<rect x="386.10" y="1437.30" width="3.20" height="62.30" fill="#000"/>
<rect x="1113.40" y="1436.10" width="62.90" height="61.40" fill="#F4D7D9"/>
<rect x="1176.30" y="1436.10" width="63.40" height="61.40" fill="#EEBBBE"/>
<rect x="1239.70" y="1436.10" width="62.90" height="61.40" fill="#E7999D"/>
<rect x="1302.60" y="1436.10" width="63.90" height="61.40" fill="#E57F82"/>
<rect x="1366.50" y="1436.10" width="64.40" height="61.40" fill="#E66567"/>
<rect x="1048.40" y="1436.10" width="382.50" height="3.40" fill="#000"/>
<rect x="1048.40" y="1494.10" width="382.50" height="3.40" fill="#000"/>
<rect x="1048.40" y="1436.10" width="3.40" height="61.40" fill="#000"/>
<rect x="1427.50" y="1436.10" width="3.40" height="61.40" fill="#000"/>
<rect x="1111.80" y="1436.10" width="3.20" height="61.40" fill="#000"/>
<rect x="1174.70" y="1436.10" width="3.20" height="61.40" fill="#000"/>
<rect x="1238.10" y="1436.10" width="3.20" height="61.40" fill="#000"/>
<rect x="1301.00" y="1436.10" width="3.20" height="61.40" fill="#000"/>
<rect x="1364.90" y="1436.10" width="3.20" height="61.40" fill="#000"/>
<text x="96.51" y="1418.60" font-size="31" textLength="347.04" lengthAdjust="spacingAndGlyphs" fill="#231F20">OD600 after 6h regrowth</text>
<text x="1127.01" y="1419.50" font-size="31.5" textLength="66.43" lengthAdjust="spacingAndGlyphs" fill="#231F20">Δlog</text>
<text x="1190.94" y="1419.50" font-size="16" textLength="24.05" lengthAdjust="spacingAndGlyphs" fill="#231F20" font-weight="bold">10</text>
<text x="1222.78" y="1419.50" font-size="31.5" textLength="138.43" lengthAdjust="spacingAndGlyphs" fill="#231F20">(CFU/ml)</text>
<text transform="translate(148.50,1513.60) rotate(90)" x="-1.37" y="12.05" font-size="35" fill="#231F20">0.5</text>
<text transform="translate(207.40,1513.60) rotate(90)" x="-1.37" y="12.05" font-size="35" fill="#231F20">0.4</text>
<text transform="translate(267.60,1513.60) rotate(90)" x="-1.37" y="12.05" font-size="35" fill="#231F20">0.3</text>
<text transform="translate(326.70,1513.60) rotate(90)" x="-1.37" y="12.05" font-size="35" fill="#231F20">0.2</text>
<text transform="translate(386.60,1513.60) rotate(90)" x="-1.37" y="12.05" font-size="35" fill="#231F20">0.1</text>
<text transform="translate(1112.50,1515.60) rotate(90)" x="-1.37" y="12.05" font-size="35" fill="#231F20">0.5</text>
<text transform="translate(1177.20,1515.60) rotate(90)" x="-2.67" y="12.04" font-size="35" fill="#231F20">1</text>
<text transform="translate(1239.70,1515.60) rotate(90)" x="-1.76" y="12.22" font-size="35" fill="#231F20">2</text>
<text transform="translate(1304.00,1515.60) rotate(90)" x="-1.33" y="12.05" font-size="35" fill="#231F20">3</text>
<text transform="translate(1369.00,1515.60) rotate(90)" x="-0.80" y="12.04" font-size="35" fill="#231F20">4</text>
<text class="p" transform="translate(482.60,0) rotate(90)" x="1446.25 1461.75 1477.75 1493.75" y="0">∗∗∗∗</text>
<text class="k" x="497.98" y="1501.00" font-size="30" textLength="118.39" lengthAdjust="spacingAndGlyphs" fill="#000">p&lt;0.0001</text>
<text class="p" transform="translate(643.20,0) rotate(90)" x="1460.25 1476.95 1493.85" y="0">∗∗∗</text>
<text class="k" x="658.19" y="1501.00" font-size="30" textLength="102.18" lengthAdjust="spacingAndGlyphs" fill="#000">p&lt;0.001</text>
<text class="p" transform="translate(788.20,0) rotate(90)" x="1477.25 1494.25" y="0">∗∗</text>
<text class="k" x="803.20" y="1500.50" font-size="30" textLength="86.37" lengthAdjust="spacingAndGlyphs" fill="#000">p&lt;0.01</text>
<text class="p" transform="translate(916.00,0) rotate(90)" x="1493.85" y="0">∗</text>
<text class="k" x="929.67" y="1500.50" font-size="30" textLength="87.83" lengthAdjust="spacingAndGlyphs" fill="#000">p&lt;0.05</text>
</svg>
</body></html>
